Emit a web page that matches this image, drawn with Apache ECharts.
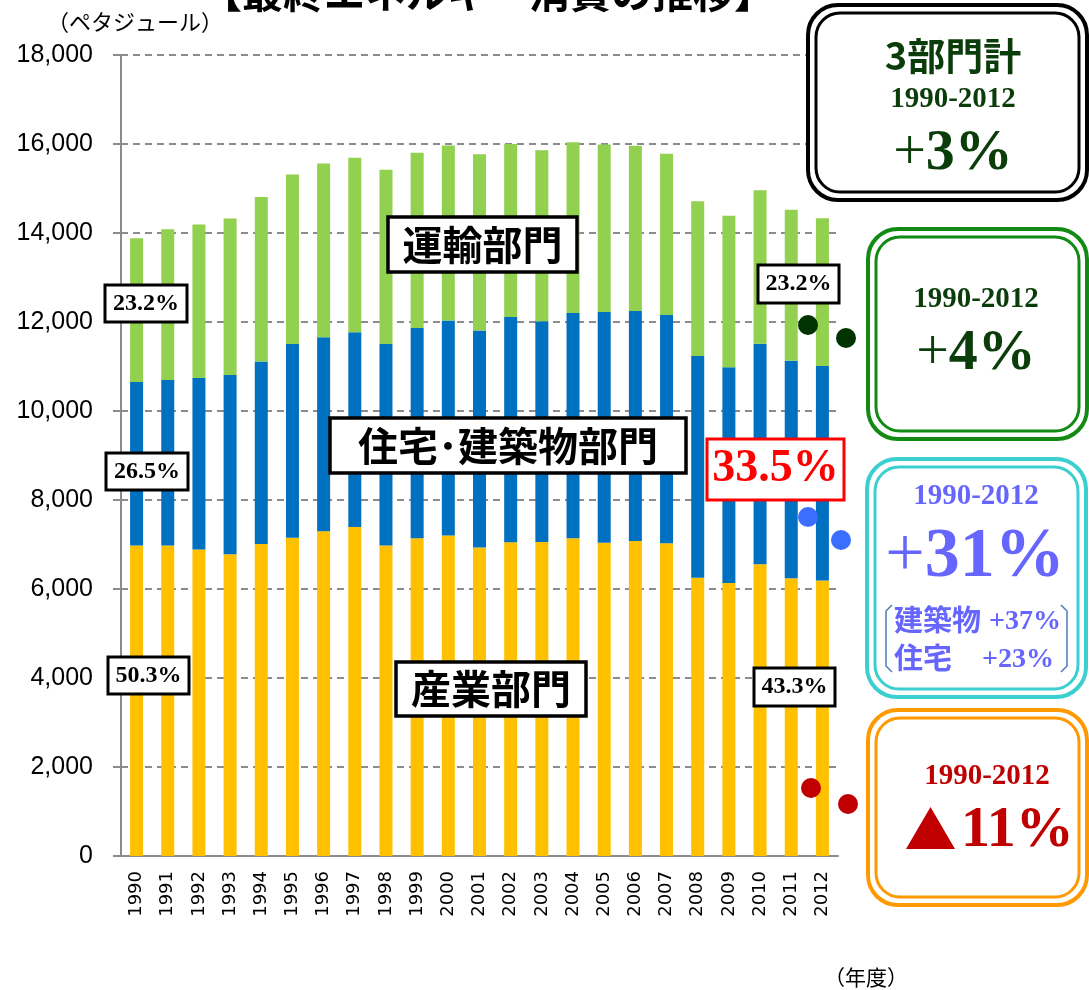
<!DOCTYPE html>
<html>
<head>
<meta charset="utf-8">
<script src="https://cdn.jsdelivr.net/npm/echarts@6/dist/echarts.min.js"></script>
<style>
  html, body { margin: 0; padding: 0; background: #fff; }
  #main { width: 1089px; height: 990px; }
</style>
</head>
<body>
<div id="main"></div>
<script>
// 年度
const years = ['1990', '1991', '1992', '1993', '1994', '1995', '1996', '1997', '1998', '1999', '2000',
  '2001', '2002', '2003', '2004', '2005', '2006', '2007', '2008', '2009', '2010', '2011', '2012'];

// 部門別の最終エネルギー消費（ペタジュール）
const industry = [6975, 6975, 6890, 6780, 7010, 7150, 7300, 7395, 6975, 7140, 7200,
  6930, 7050, 7055, 7140, 7040, 7080, 7030, 6255, 6135, 6555, 6240, 6190];
const residential = [3675, 3720, 3850, 4030, 4105, 4355, 4360, 4375, 4530, 4725, 4835,
  4880, 5060, 4960, 5060, 5185, 5165, 5125, 4980, 4850, 4955, 4890, 4820];
const transport = [3230, 3390, 3450, 3515, 3695, 3810, 3900, 3920, 3915, 3940, 3930,
  3960, 3890, 3845, 3840, 3765, 3715, 3625, 3480, 3400, 3450, 3390, 3320];

const yTicks = { min: 0, max: 18000, interval: 2000 };

const JP = '"Noto Sans CJK JP", sans-serif';
const SERIF = '"Liberation Serif", "DejaVu Serif", serif';
const Z = 100;

// 枠付きラベル
function boxLabel(x, y, w, h, text, font, color, stroke, lw) {
  return {
    type: 'group',
    children: [
      { type: 'rect', z: Z, shape: { x, y, width: w, height: h },
        style: { fill: '#fff', stroke: stroke || '#000', lineWidth: lw || 3 } },
      { type: 'text', z: Z + 1, x: x + w / 2, y: y + h / 2,
        style: { text, font, fill: color || '#000', textAlign: 'center', textVerticalAlign: 'middle' } }
    ]
  };
}

// 二重線の角丸枠
function doubleBox(x, y, w, h, color) {
  return {
    type: 'group',
    children: [
      { type: 'rect', z: Z, shape: { x, y, width: w, height: h, r: 30 },
        style: { fill: '#fff', stroke: color, lineWidth: 4 } },
      { type: 'rect', z: Z, shape: { x: x + 8, y: y + 8, width: w - 16, height: h - 16, r: 24 },
        style: { fill: 'none', stroke: color, lineWidth: 3 } }
    ]
  };
}

function txt(x, y, text, font, color, align) {
  return { type: 'text', z: Z + 1, x, y,
    style: { text, font, fill: color, textAlign: align || 'center', textVerticalAlign: 'middle' } };
}

function dot(x, y, color) {
  return { type: 'circle', z: Z, shape: { cx: x, cy: y, r: 10 }, style: { fill: color } };
}

function bigPct(x, y, num, size, color) {
  return { type: 'text', z: Z + 1, x, y,
    style: { text: '{a|+}{b|' + num + '}', textAlign: 'center', textVerticalAlign: 'middle',
      rich: { a: { font: size + 'px ' + SERIF, fill: color },
              b: { font: 'bold ' + size + 'px ' + SERIF, fill: color } } } };
}

const darkGreen = '#0b3d0b';
const violet = '#6666ff';
const darkRed = '#c00000';

const chart = echarts.init(document.getElementById('main'));

chart.setOption({
  animation: false,
  grid: { left: 121, right: 251, top: 55, bottom: 134 },
  xAxis: {
    type: 'category',
    data: years,
    axisLine: { lineStyle: { color: '#8c8c8c', width: 2 } },
    axisTick: { length: 6, lineStyle: { color: '#8c8c8c', width: 1.5 } },
    axisLabel: { rotate: 90, fontFamily: 'DejaVu Sans', fontSize: 18, color: '#000', margin: 15 }
  },
  yAxis: {
    type: 'value',
    min: yTicks.min,
    max: yTicks.max,
    interval: yTicks.interval,
    axisLine: { show: true, lineStyle: { color: '#8c8c8c', width: 2 } },
    axisTick: { show: true, length: 8, lineStyle: { color: '#8c8c8c', width: 2 } },
    splitLine: { lineStyle: { color: '#8c8c8c', width: 2, type: [7, 5] } },
    axisLabel: { fontFamily: '"Liberation Sans", Arial, sans-serif', fontSize: 25, color: '#000', margin: 28 }
  },
  series: [
    { name: '産業部門', type: 'bar', stack: 'total', data: industry, barWidth: 13,
      itemStyle: { color: '#ffc000' } },
    { name: '住宅・建築物部門', type: 'bar', stack: 'total', data: residential, barWidth: 13,
      itemStyle: { color: '#0070c0' } },
    { name: '運輸部門', type: 'bar', stack: 'total', data: transport, barWidth: 13,
      itemStyle: { color: '#92d050' } }
  ],
  graphic: [
    // タイトル（上端で切れている）
    { type: 'text', z: Z, x: 488, y: -28,
      style: { text: '【最終エネルギー消費の推移】', font: 'bold 41px ' + JP, fill: '#000',
        textAlign: 'center', textVerticalAlign: 'top' } },
    txt(135, 22, '（ペタジュール）', '22px ' + JP, '#000'),
    txt(866, 977, '（年度）', '21px ' + JP, '#000'),

    // 部門名
    boxLabel(388, 217, 189, 55, '運輸部門', 'bold 40px ' + JP, '#000', '#000', 3.5),
    boxLabel(330, 418, 356, 55, '住宅･建築物部門', 'bold 40px ' + JP, '#000', '#000', 3.5),
    boxLabel(396, 662, 190, 54, '産業部門', 'bold 40px ' + JP, '#000', '#000', 3.5),

    // 構成比
    boxLabel(105, 285, 82, 37, '23.2%', 'bold 24px ' + SERIF),
    boxLabel(106, 453, 82, 37, '26.5%', 'bold 24px ' + SERIF),
    boxLabel(108, 657, 81, 37, '50.3%', 'bold 24px ' + SERIF),
    boxLabel(758, 265, 81, 38, '23.2%', 'bold 24px ' + SERIF),
    boxLabel(754, 668, 81, 38, '43.3%', 'bold 24px ' + SERIF),
    boxLabel(707, 439, 137, 61, '33.5%', 'bold 46px ' + SERIF, '#ff0000', '#ff0000', 3),

    // 丸印
    dot(808, 325, '#003300'), dot(846, 338, '#003300'),
    dot(808, 517, '#3b6eff'), dot(841, 540, '#3b6eff'),
    dot(811, 788, darkRed), dot(848, 804, darkRed),

    // 3部門計
    doubleBox(808, 5, 279, 195, '#000'),
    txt(953, 56, '3部門計', 'bold 38px ' + JP, darkGreen),
    txt(953, 100, '1990-2012', 'bold 29px ' + SERIF, darkGreen),
    bigPct(953, 154, '3%', 58, darkGreen),

    // 運輸
    doubleBox(868, 229, 219, 210, '#138a13'),
    txt(976, 300, '1990-2012', 'bold 29px ' + SERIF, darkGreen),
    bigPct(976, 354, '4%', 58, darkGreen),

    // 住宅・建築物
    doubleBox(867, 459, 219, 238, '#3ccfcf'),
    txt(976, 497, '1990-2012', 'bold 29px ' + SERIF, violet),
    bigPct(975, 558, '31%', 70, violet),
    { type: 'polyline', z: Z, shape: { points: [[892, 605], [886, 611], [886, 666], [892, 672]] },
      style: { stroke: '#4a7ebb', lineWidth: 1.5, fill: 'none' } },
    { type: 'polyline', z: Z, shape: { points: [[1061, 605], [1067, 611], [1067, 666], [1061, 672]] },
      style: { stroke: '#4a7ebb', lineWidth: 1.5, fill: 'none' } },
    txt(894, 620, '建築物', 'bold 29px ' + JP, violet, 'left'),
    txt(1061, 622, '+37%', 'bold 28px ' + SERIF, violet, 'right'),
    txt(894, 658, '住宅', 'bold 29px ' + JP, violet, 'left'),
    txt(1054, 660, '+23%', 'bold 28px ' + SERIF, violet, 'right'),

    // 産業
    doubleBox(868, 710, 219, 195, '#ff9900'),
    txt(987, 777, '1990-2012', 'bold 29px ' + SERIF, darkRed),
    { type: 'polygon', z: Z, shape: { points: [[906, 849], [955, 849], [930.5, 807]] },
      style: { fill: darkRed } },
    txt(961, 831, '11%', 'bold 58px ' + SERIF, darkRed, 'left')
  ]
});
</script>
</body>
</html>
